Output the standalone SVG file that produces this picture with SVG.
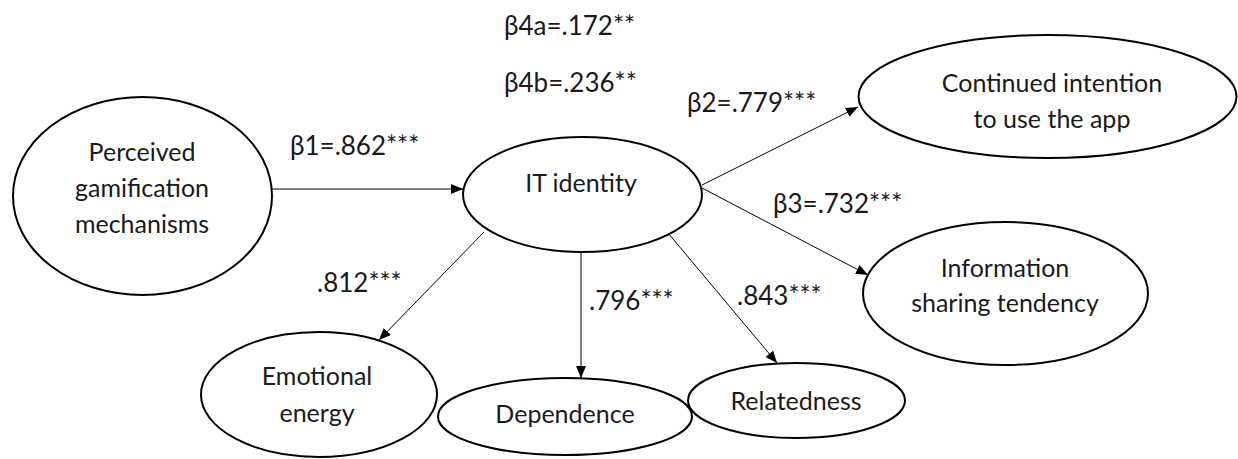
<svg xmlns="http://www.w3.org/2000/svg" width="1238" height="459" viewBox="0 0 1238 459">
<style>
.n{fill:#fff;stroke:#000;stroke-width:2}
.t{font-family:Lato,"Open Sans","Liberation Sans",sans-serif;font-size:25px;fill:#1a1a1a;text-anchor:middle}
.l{font-family:Lato,"Open Sans","Liberation Sans",sans-serif;font-size:26px;fill:#1a1a1a}
.c{stroke:#000;stroke-width:1;fill:none;marker-end:url(#ah)}
</style>
<defs>
<marker id="ah" viewBox="0 0 12 10" refX="12" refY="5" markerWidth="12" markerHeight="10" markerUnits="userSpaceOnUse" orient="auto">
<path d="M0,0 L12,5 L0,10 Z" fill="#000"/>
</marker>
</defs>
<rect width="1238" height="459" fill="#fff"/>
<g id="connectors">
<line class="c" x1="272" y1="189" x2="463" y2="189"/>
<line class="c" x1="702" y1="185" x2="858" y2="107"/>
<line class="c" x1="702" y1="188" x2="868" y2="275"/>
<line class="c" x1="484" y1="232" x2="379" y2="340"/>
<line class="c" x1="581" y1="253" x2="581" y2="378"/>
<line class="c" x1="668" y1="233" x2="777" y2="363"/>
</g>
<g id="labels">
<text class="l" x="290" y="155">β1=.862***</text>
<text class="l" x="504" y="35">β4a=.172**</text>
<text class="l" x="504" y="92">β4b=.236**</text>
<text class="l" x="687" y="112">β2=.779***</text>
<text class="l" x="773" y="213">β3=.732***</text>
<text class="l" x="317" y="292">.812***</text>
<text class="l" x="589" y="310">.796***</text>
<text class="l" x="737" y="305">.843***</text>
</g>
<g id="perceived">
<ellipse class="n" cx="142.5" cy="196" rx="129.5" ry="99"/>
<text class="t" x="142" y="161">Perceived</text>
<text class="t" x="142" y="197">gamification</text>
<text class="t" x="142" y="233">mechanisms</text>
</g>
<g id="it-identity">
<ellipse class="n" cx="582.5" cy="194.5" rx="119.5" ry="57.5"/>
<text class="t" x="581" y="192">IT identity</text>
</g>
<g id="continued">
<ellipse class="n" cx="1047.5" cy="96.5" rx="189" ry="61.5"/>
<text class="t" x="1052" y="92">Continued intention</text>
<text class="t" x="1052" y="128">to use the app</text>
</g>
<g id="information">
<ellipse class="n" cx="1005.5" cy="293.5" rx="142.5" ry="71.5"/>
<text class="t" x="1005" y="277">Information</text>
<text class="t" x="1005" y="312">sharing tendency</text>
</g>
<g id="emotional">
<ellipse class="n" cx="319" cy="394.5" rx="118" ry="62.5"/>
<text class="t" x="317" y="385">Emotional</text>
<text class="t" x="317" y="422">energy</text>
</g>
<g id="dependence">
<ellipse class="n" cx="565" cy="416.5" rx="127" ry="38.5"/>
<text class="t" x="565" y="423">Dependence</text>
</g>
<g id="relatedness">
<ellipse class="n" cx="796.5" cy="400.5" rx="108.5" ry="37.5"/>
<text class="t" x="796" y="410">Relatedness</text>
</g>
</svg>
